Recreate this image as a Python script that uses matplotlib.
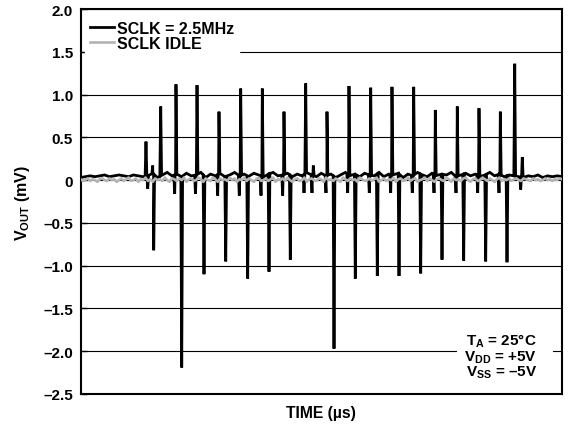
import numpy as np
import matplotlib
matplotlib.use("Agg")
import matplotlib.pyplot as plt
from matplotlib.patches import Rectangle

plt.rcParams['font.family'] = ['Liberation Sans', 'DejaVu Sans']
plt.rcParams['font.weight'] = 'bold'
plt.rcParams['mathtext.fontset'] = 'custom'
plt.rcParams['mathtext.rm'] = 'Liberation Sans:bold'
plt.rcParams['mathtext.it'] = 'Liberation Sans:bold'
plt.rcParams['mathtext.bf'] = 'Liberation Sans:bold'

# ---------------- data ----------------
# spike events on the SCLK = 2.5MHz trace (time in % of the record, value in mV)
spike_time = [13.60, 13.96, 15.00, 15.20, 16.66, 19.56, 19.83, 21.02,
              23.88, 24.20, 25.65, 28.49, 28.76, 30.16, 32.98, 33.27,
              34.72, 37.49, 37.76, 39.15, 41.99, 42.26, 43.57, 46.42,
              46.77, 48.08, 48.35, 50.99, 51.19, 52.65, 55.49, 55.76,
              57.07, 59.98, 60.27, 61.64, 64.42, 64.69, 66.15, 68.91,
              69.20, 70.65, 73.42, 73.69, 75.08, 77.99, 78.25, 79.58,
              82.49, 82.76, 84.15, 86.92, 87.19, 88.58, 90.18, 91.42,
              91.75]
spike_value = [0.45, -0.10, 0.17, -0.82, 0.86, -0.16, 1.12, -2.19,
               -0.16, 1.11, -1.10, -0.18, 0.80, -0.95, -0.18, 1.07,
               -1.15, -0.18, 1.07, -1.07, -0.18, 0.80, -0.93, -0.15,
               1.13, -0.15, 0.17, -0.15, 0.80, -1.97, -0.15, 1.10,
               -1.15, -0.15, 1.08, -1.12, -0.15, 1.09, -1.12, -0.15,
               1.09, -1.09, -0.15, 0.82, -0.93, -0.15, 0.86, -0.94,
               -0.15, 0.84, -0.95, -0.15, 0.80, -0.96, 1.36, -0.11,
               0.27]

# baseline of the SCLK = 2.5MHz trace, one value per 1 % of the record
clk_base = [0.03, 0.04, 0.05, 0.04, 0.05, 0.06, 0.04, 0.05, 0.06, 0.05,
            0.04, 0.06, 0.05, 0.04, 0.05, 0.08, 0.03, 0.06, 0.09, 0.05,
            0.07, 0.04, 0.08, 0.05, 0.06, 0.09, 0.03, 0.07, 0.05, 0.08,
            0.04, 0.06, 0.09, 0.05, 0.07, 0.04, 0.08, 0.06, 0.03, 0.07,
            0.09, 0.05, 0.06, 0.08, 0.04, 0.07, 0.05, 0.09, 0.06, 0.04,
            0.08, 0.05, 0.07, 0.03, 0.06, 0.09, 0.05, 0.07, 0.04, 0.08,
            0.06, 0.05, 0.09, 0.04, 0.07, 0.06, 0.08, 0.03, 0.07, 0.05,
            0.09, 0.06, 0.04, 0.08, 0.05, 0.07, 0.06, 0.09, 0.04, 0.06,
            0.08, 0.05, 0.07, 0.04, 0.06, 0.09, 0.05, 0.07, 0.04, 0.06,
            0.05, 0.04, 0.03, 0.05, 0.04, 0.06, 0.03, 0.05, 0.04, 0.05,
            0.04]

# SCLK IDLE trace, one value per 0.5 % of the record
idle_values = [0.01, -0.01, 0.00, 0.02, -0.01, 0.01, 0.00, -0.02, 0.01, 0.02,
               0.00, -0.01, 0.02, 0.00, 0.01, -0.02, 0.00, 0.02, -0.01, 0.01,
               0.03, -0.01, 0.00, 0.02, -0.02, 0.01, 0.00, 0.03, -0.01, 0.01,
               -0.02, 0.02, 0.00, 0.01, -0.01, 0.03, 0.00, -0.02, 0.02, 0.01,
               -0.01, 0.02, 0.00, 0.03, -0.02, 0.01, 0.02, -0.01, 0.00, 0.03,
               0.01, -0.02, 0.02, 0.00, -0.01, 0.03, 0.01, -0.02, 0.02, 0.00,
               0.01, -0.01, 0.03, 0.00, 0.02, -0.02, 0.01, 0.00, 0.03, -0.01,
               0.02, 0.00, -0.02, 0.01, 0.03, -0.01, 0.00, 0.02, -0.01, 0.01,
               0.03, -0.02, 0.01, 0.00, 0.02, -0.01, 0.03, 0.00, -0.02, 0.01,
               0.02, -0.01, 0.00, 0.03, -0.02, 0.01, 0.02, 0.00, -0.01, 0.02,
               0.01, -0.02, 0.03, 0.00, 0.01, -0.01, 0.02, 0.00, -0.02, 0.03,
               0.01, -0.01, 0.02, 0.00, 0.01, -0.02, 0.03, 0.01, -0.01, 0.00,
               0.02, -0.01, 0.01, 0.03, -0.02, 0.00, 0.02, -0.01, 0.01, 0.00,
               0.03, -0.02, 0.01, 0.02, -0.01, 0.00, 0.03, -0.01, 0.01, 0.02,
               -0.02, 0.00, 0.01, 0.03, -0.01, 0.02, 0.00, -0.02, 0.01, 0.02,
               0.00, -0.01, 0.03, 0.01, -0.02, 0.02, 0.00, 0.01, -0.01, 0.02,
               0.03, 0.00, -0.02, 0.01, 0.02, -0.01, 0.00, 0.03, 0.01, -0.01,
               0.02, 0.00, -0.02, 0.01, 0.03, -0.01, 0.01, 0.00, 0.02, -0.01,
               0.01, 0.02, 0.00, -0.01, 0.02, 0.01, 0.00, -0.01, 0.02, 0.00,
               0.01, -0.01, 0.00, 0.02, 0.00, 0.01, -0.01, 0.01, 0.00, 0.02,
               0.01]

ytick_values = [-2.5, -2.0, -1.5, -1.0, -0.5, 0, 0.5, 1.0, 1.5, 2.0]
ytick_labels = ['–2.5', '–2.0', '–1.5', '–1.0', '–0.5', '0', '0.5', '1.0', '1.5', '2.0']
legend_labels = ['SCLK = 2.5MHz', 'SCLK IDLE']
conditions = [r'$\mathrm{T_A}$ = 25°C', r'$\mathrm{V_{DD}}$ = +5V', r'$\mathrm{V_{SS}}$ = –5V']

# ---------------- build traces ----------------
st = np.array(spike_time)
sv = np.array(spike_value)
bt = np.arange(len(clk_base)) * 1.0
bv = np.array(clk_base)
keep = np.array([np.all(np.abs(st - t) > 0.35) for t in bt])
w = 0.18
shoulder_t = np.concatenate([st - w, st + w])
shoulder_v = np.interp(shoulder_t, bt, bv)
clk_t = np.concatenate([bt[keep], st, shoulder_t])
clk_v = np.concatenate([bv[keep], sv, shoulder_v])
order = np.argsort(clk_t, kind='stable')
clk_t, clk_v = clk_t[order], clk_v[order]

idle_t = np.arange(len(idle_values)) * 0.5
idle_v = np.array(idle_values)

# ---------------- figure ----------------
fig = plt.figure(figsize=(5.68, 4.27), dpi=100)
ax = fig.add_axes([80.5 / 568, 1 - 395 / 427, 481.5 / 568, 385 / 427])

l1, = ax.plot(clk_t, clk_v, color='black', lw=2.0, zorder=2, solid_joinstyle='miter')
l2, = ax.plot(idle_t, idle_v, color='#b3b3b3', lw=1.9, zorder=3)

ax.set_xlim(0, 100)
ax.set_ylim(-2.5, 2.0)
ax.set_yticks(ytick_values)
ax.set_yticklabels(ytick_labels)
ax.set_xticks([])
ax.tick_params(axis='y', direction='in', length=4, width=1.0, pad=5.5, labelsize=11)
ax.set_axisbelow(True)
ax.yaxis.grid(True, color='black', lw=0.8)
for s in ax.spines.values():
    s.set_linewidth(1.5)

ax.set_xlabel('TIME (µs)', fontsize=11.3, fontweight='bold', labelpad=8)
ax.set_ylabel(r'$\mathrm{V_{OUT}}$ (mV)', fontsize=11.5, fontweight='bold', labelpad=8)

leg = ax.legend([l1, l2], legend_labels, loc='upper left',
                bbox_to_anchor=(0.002, 1.0 - 3.0 / 385),
                fontsize=11.5, frameon=True, fancybox=False, framealpha=1,
                edgecolor='white', facecolor='white', handlelength=1.5,
                handletextpad=0.2, borderpad=0.3, borderaxespad=0.25,
                labelspacing=0.0)
leg.set_zorder(5)

ax.add_patch(Rectangle((0.782, 0.03), 0.199, 0.18, transform=ax.transAxes,
                       facecolor='white', edgecolor='none', zorder=1.5))
for i, txt in enumerate(conditions):
    ax.text((537 - 80.5) / 481.5, (395 - (346 + i * 15.5)) / 385,
            txt, transform=ax.transAxes, ha='right', va='baseline',
            fontsize=11, fontweight='bold', zorder=4)

fig.savefig('out.png', dpi=100)
